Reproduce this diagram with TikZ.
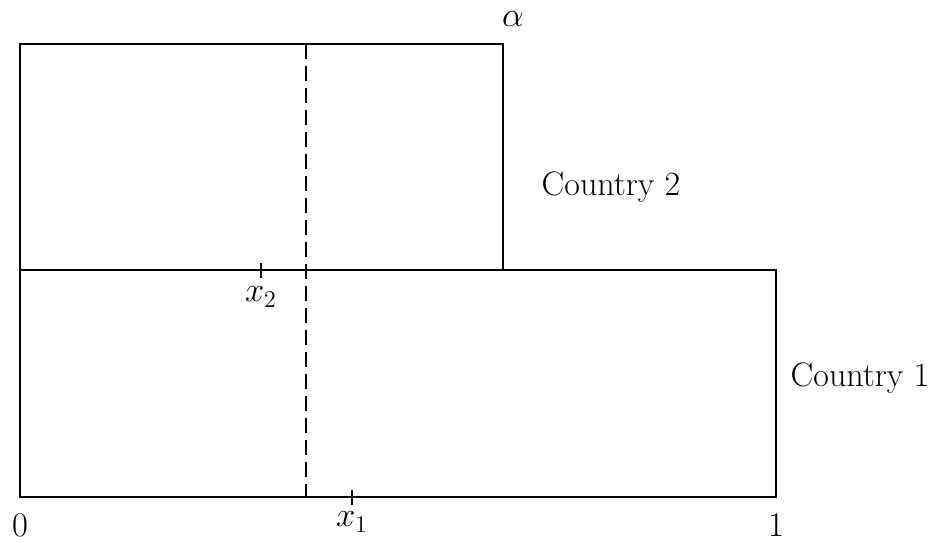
\documentclass[tikz,border=0pt]{standalone}
\usepackage{amsmath}
\usepackage{tikz}
\usetikzlibrary{positioning}

\begin{document}
\begin{tikzpicture}[
    x=0.5pt, y=-0.5pt,
    boxline/.style={line width=1.15pt},
    tickline/.style={line width=1.15pt},
    cutline/.style={line width=1.15pt, dash pattern=on 7.5pt off 3.5pt},
    lbl/.style={font=\fontsize{17}{20}\selectfont, inner sep=0pt},
  ]
  \useasboundingbox (0,0) rectangle (932,542);
  % corners
  \coordinate (lo-sw) at (20,497);
  \coordinate (lo-ne) at (776,270);
  \coordinate (up-sw) at (20,270);
  \coordinate (up-ne) at (503,44);
  \coordinate (cut-top) at (306,44);
  \coordinate (cut-bot) at (306,497);
  \coordinate (t2-top) at (261,263);
  \coordinate (t2-bot) at (261,278);
  \coordinate (t1-top) at (352,490);
  \coordinate (t1-bot) at (352,505);

  \draw[boxline] (lo-sw) rectangle (lo-ne);
  \draw[boxline] (up-sw) rectangle (up-ne);
  \draw[cutline] (cut-top) -- (cut-bot);
  \draw[tickline] (t2-top) -- (t2-bot);
  \draw[tickline] (t1-top) -- (t1-bot);

  % labels
  \node[lbl] (zero) at (20,525) {$0$};
  \node[lbl] (one) at (776,525) {$1$};
  \node[lbl] (xone) at (352,522) {$x_1$};
  \node[lbl] (xtwo) at (261,297) {$x_2$};
  \node[lbl] (alpha) at (513,19) {$\alpha$};
  \node[lbl] (ctwo) at (611,187) {Country 2};
  \node[lbl] (cone) at (860,378) {Country 1};
\end{tikzpicture}
\end{document}
